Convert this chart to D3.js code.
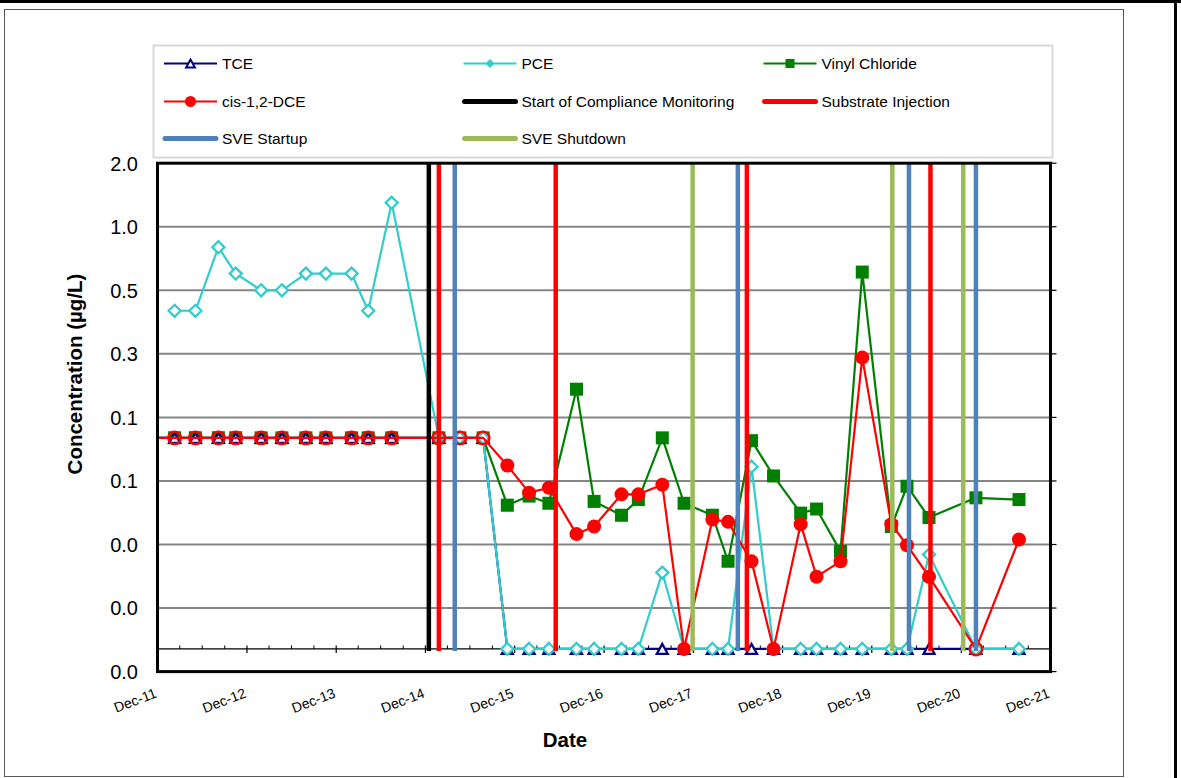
<!DOCTYPE html>
<html>
<head>
<meta charset="utf-8">
<script src="https://cdn.jsdelivr.net/npm/d3@7"></script>
<style>
  html, body { margin: 0; padding: 0; background: #fff; }
  svg { display: block; font-family: "Liberation Sans", Arial, sans-serif; }
</style>
</head>
<body>
<svg id="chart" width="1181" height="778"></svg>
<script>
// ---- Sampling dates (first one precedes the displayed window) ----
const sampleDates = [
  "2011-09-01",
  "2012-02-09", "2012-05-04", "2012-08-06", "2012-10-16", "2013-01-28", "2013-04-23",
  "2013-07-30", "2013-10-20", "2014-02-02", "2014-04-11", "2014-07-16",
  "2015-01-25", "2015-04-21", "2015-07-25",
  "2015-11-01", "2016-01-29", "2016-04-19", "2016-08-10", "2016-10-21",
  "2017-02-10", "2017-04-20", "2017-07-27", "2017-10-24",
  "2018-02-17", "2018-04-22", "2018-07-27", "2018-10-25",
  "2019-02-13", "2019-04-19", "2019-07-26", "2019-10-23",
  "2020-02-19", "2020-04-23", "2020-07-22",
  "2021-01-30", "2021-07-25"
];

// ---- Concentrations (µg/L) ----
const tce = [
  0.1,
  0.1, 0.1, 0.1, 0.1, 0.1, 0.1, 0.1, 0.1, 0.1, 0.1, 0.1,
  0.1, 0.1, 0.1,
  0.01, 0.01, 0.01, 0.01, 0.01,
  0.01, 0.01, 0.01, 0.01,
  0.01, 0.01, 0.01, 0.01,
  0.01, 0.01, 0.01, 0.01,
  0.01, 0.01, 0.01,
  0.01, 0.01
];
const pce = [
  null,
  0.4, 0.4, 0.8, 0.6, 0.5, 0.5, 0.6, 0.6, 0.6, 0.4, 1.3,
  0.1, 0.1, 0.1,
  0.01, 0.01, 0.01, 0.01, 0.01,
  0.01, 0.01, 0.023, 0.01,
  0.01, 0.01, 0.073, 0.01,
  0.01, 0.01, 0.01, 0.01,
  0.01, 0.01, 0.028,
  0.01, 0.01
];
const vinylChloride = [
  0.1,
  0.1, 0.1, 0.1, 0.1, 0.1, 0.1, 0.1, 0.1, 0.1, 0.1, 0.1,
  0.1, 0.1, 0.1,
  0.048, 0.053, 0.049, 0.17, 0.05,
  0.043, 0.051, 0.1, 0.049,
  0.043, 0.026, 0.097, 0.066,
  0.044, 0.046, 0.029, 0.61,
  0.038, 0.059, 0.042,
  0.052, 0.051
];
const cisDCE = [
  0.1,
  0.1, 0.1, 0.1, 0.1, 0.1, 0.1, 0.1, 0.1, 0.1, 0.1, 0.1,
  0.1, 0.1, 0.1,
  0.074, 0.055, 0.058, 0.035, 0.038,
  0.054, 0.054, 0.06, 0.01,
  0.041, 0.040, 0.026, 0.01,
  0.039, 0.022, 0.026, 0.24,
  0.039, 0.031, 0.022,
  0.01, 0.033
];
// cis-1,2-DCE results reported below detection (drawn as open circles)
const cisDCENonDetect = [
  true,
  true, true, true, true, true, true, true, true, true, true, true,
  true, true, true,
  false, false, false, false, false,
  false, false, false, false,
  false, false, false, false,
  false, false, false, false,
  false, false, false,
  true, false
];

// ---- Site activity dates ----
const complianceStart = ["2014-12-15"];
const substrateInjection = ["2015-01-25", "2016-05-17", "2018-07-08", "2020-07-28"];
const sveStartup = ["2015-03-31", "2018-06-01", "2020-05-01", "2021-01-30"];
const sveShutdown = ["2017-11-28", "2020-02-23", "2020-12-09"];

// ---- Axis settings ----
const yTickValues = [2, 1, 0.5, 0.25, 0.125, 0.0625, 0.03125, 0.015625, 0.0078125];
const xDomain = ["2011-12-01", "2021-12-01"];
const xAxisCrossing = 0.01;

const parse = d3.utcParse("%Y-%m-%d");
const svg = d3.select("#chart");

// outer page border pieces
svg.append("rect").attr("x", 0).attr("y", 0).attr("width", 1181).attr("height", 3).attr("fill", "#000");
svg.append("rect").attr("x", 1174).attr("y", 0).attr("width", 3).attr("height", 778).attr("fill", "#000");
// chart area frame
svg.append("rect").attr("x", 4.5).attr("y", 9.5).attr("width", 1119).attr("height", 767)
  .attr("fill", "#fff").attr("stroke", "#595959").attr("stroke-width", 1);

const plot = { left: 157.5, right: 1050.5, top: 163.2, bottom: 671.6 };

const x = d3.scaleUtc().domain(xDomain.map(parse)).range([plot.left, plot.right]);
const y = d3.scaleLog().base(2).domain([yTickValues[yTickValues.length - 1], yTickValues[0]])
  .range([plot.bottom, plot.top]);

// ---- gridlines ----
svg.append("g").selectAll("line")
  .data(yTickValues.slice(1, -1))
  .join("line")
  .attr("x1", plot.left).attr("x2", plot.right)
  .attr("y1", d => y(d)).attr("y2", d => y(d))
  .attr("stroke", "#868686").attr("stroke-width", 2);

// right-side tick marks
svg.append("g").selectAll("line")
  .data(yTickValues)
  .join("line")
  .attr("x1", plot.right).attr("x2", plot.right + 6)
  .attr("y1", d => y(d)).attr("y2", d => y(d))
  .attr("stroke", "#000").attr("stroke-width", 1.2);

// y tick labels
const fmtY = d3.format(".1f");
svg.append("g").selectAll("text")
  .data(yTickValues)
  .join("text")
  .attr("x", 138).attr("y", d => y(d) + 7.3)
  .attr("text-anchor", "end")
  .attr("font-size", 20)
  .attr("fill", "#000")
  .text(d => fmtY(d));

// ---- horizontal axis at the crossing value ----
const yCross = y(xAxisCrossing);
svg.append("line")
  .attr("x1", plot.left).attr("x2", plot.right)
  .attr("y1", yCross).attr("y2", yCross)
  .attr("stroke", "#000").attr("stroke-width", 1.2);

const d0 = parse(xDomain[0]), d1 = parse(xDomain[1]);
const majorTicks = d3.utcMonth.range(d0, new Date(+d1 + 864e5), 12);
const minorTicks = d3.utcMonth.range(d0, new Date(+d1 + 864e5), 3)
  .filter(d => d.getUTCMonth() !== 11);

svg.append("g").selectAll("line")
  .data(minorTicks)
  .join("line")
  .attr("x1", d => x(d)).attr("x2", d => x(d))
  .attr("y1", yCross - 3.5).attr("y2", yCross)
  .attr("stroke", "#000").attr("stroke-width", 1);

svg.append("g").selectAll("line")
  .data(majorTicks)
  .join("line")
  .attr("x1", d => x(d)).attr("x2", d => x(d))
  .attr("y1", yCross - 3.5).attr("y2", yCross + 4)
  .attr("stroke", "#000").attr("stroke-width", 1.2);

const fmtX = d3.utcFormat("%b-%y");
svg.append("g").selectAll("text")
  .data(majorTicks)
  .join("text")
  .attr("transform", d => `translate(${x(d)},${697}) rotate(-21)`)
  .attr("text-anchor", "end")
  .attr("font-size", 14)
  .attr("fill", "#000")
  .text(d => fmtX(d));

// ---- axis titles ----
svg.append("text")
  .attr("transform", "translate(82,374) rotate(-90)")
  .attr("text-anchor", "middle")
  .attr("font-size", 20.5).attr("font-weight", "bold")
  .text("Concentration (µg/L)");

svg.append("text")
  .attr("x", 565).attr("y", 746.5)
  .attr("text-anchor", "middle")
  .attr("font-size", 20.5).attr("font-weight", "bold")
  .text("Date");

// ---- series ----
svg.append("clipPath").attr("id", "plotClip")
  .append("rect")
  .attr("x", plot.left).attr("y", plot.top)
  .attr("width", plot.right - plot.left).attr("height", plot.bottom - plot.top);

const dataArea = svg.append("g").attr("clip-path", "url(#plotClip)");

const markerPaths = {
  triangle: (s) => `M0,${-s}L${s * 1.1},${s}L${-s * 1.1},${s}Z`,
  diamond: (s) => `M0,${-s}L${s},0L0,${s}L${-s},0Z`,
  square: (s) => `M${-s},${-s}H${s}V${s}H${-s}Z`,
  circle: (s) => `M${s},0A${s},${s} 0 1,1 ${-s},0A${s},${s} 0 1,1 ${s},0Z`
};

const series = [
  { name: "Vinyl Chloride", values: vinylChloride, color: "#008000", marker: "square", size: 6.5, hollow: () => false },
  { name: "TCE", values: tce, color: "#000080", marker: "triangle", size: 5, hollow: () => true },
  { name: "PCE", values: pce, color: "#33CCCC", marker: "diamond", size: 6, hollow: () => true },
  { name: "cis-1,2-DCE", values: cisDCE, color: "#FF0000", marker: "circle", size: 7, hollow: (i) => cisDCENonDetect[i] }
];

const line = d3.line()
  .defined(d => d.v != null)
  .x(d => x(d.date))
  .y(d => y(d.v));

series.forEach(s => {
  const pts = sampleDates.map((d, i) => ({ date: parse(d), v: s.values[i], i }));
  const g = dataArea.append("g");
  g.append("path")
    .datum(pts)
    .attr("fill", "none")
    .attr("stroke", s.color)
    .attr("stroke-width", 2.2)
    .attr("stroke-linejoin", "round")
    .attr("d", line);
  g.selectAll("path.mk")
    .data(pts.filter(p => p.v != null))
    .join("path")
    .attr("class", "mk")
    .attr("transform", p => `translate(${x(p.date)},${y(p.v)})`)
    .attr("d", p => markerPaths[s.marker](s.hollow(p.i) && s.marker === "circle" ? 6.3 : s.size))
    .attr("fill", p => s.hollow(p.i) ? "#fff" : s.color)
    .attr("fill-opacity", p => (s.hollow(p.i) && s.marker === "circle") ? 0 : 1)
    .attr("stroke", s.color)
    .attr("stroke-width", p => s.hollow(p.i) ? 2.3 : 0);
});

// ---- activity lines ----
const events = [
  { name: "Start of Compliance Monitoring", dates: complianceStart, color: "#000000" },
  { name: "Substrate Injection", dates: substrateInjection, color: "#FF0000" },
  { name: "SVE Startup", dates: sveStartup, color: "#4F81BD" },
  { name: "SVE Shutdown", dates: sveShutdown, color: "#9BBB59" }
];

events.forEach(e => {
  dataArea.append("g").selectAll("line")
    .data(e.dates.map(parse))
    .join("line")
    .attr("x1", d => x(d)).attr("x2", d => x(d))
    .attr("y1", y(xAxisCrossing) + 2).attr("y2", plot.top)
    .attr("stroke", e.color)
    .attr("stroke-width", 4.5);
});

// plot frame
svg.append("rect")
  .attr("x", plot.left).attr("y", plot.top)
  .attr("width", plot.right - plot.left).attr("height", plot.bottom - plot.top)
  .attr("fill", "none").attr("stroke", "#000").attr("stroke-width", 3);

// ---- legend ----
svg.append("rect")
  .attr("x", 153.5).attr("y", 45.5).attr("width", 899).attr("height", 112)
  .attr("fill", "#fff").attr("stroke", "#d9d9d9").attr("stroke-width", 2);

const legendCols = [164, 463.5, 763.5];
const legendRows = [63.5, 101.5, 138.5];
const legendItems = [
  { s: series[1], col: 0, row: 0 },
  { s: series[2], col: 1, row: 0 },
  { s: series[0], col: 2, row: 0 },
  { s: series[3], col: 0, row: 1 },
  { e: events[0], col: 1, row: 1 },
  { e: events[1], col: 2, row: 1 },
  { e: events[2], col: 0, row: 2 },
  { e: events[3], col: 1, row: 2 }
];

const lg = svg.append("g");
legendItems.forEach(it => {
  const x0 = legendCols[it.col], yy = legendRows[it.row];
  const g = lg.append("g");
  if (it.s) {
    const s = it.s;
    g.append("line").attr("x1", x0).attr("x2", x0 + 53).attr("y1", yy).attr("y2", yy)
      .attr("stroke", s.color).attr("stroke-width", 2.2);
    const hollowMk = s.marker === "triangle";
    g.append("path")
      .attr("transform", `translate(${x0 + 26.5},${yy})`)
      .attr("d", markerPaths[s.marker](s.marker === "circle" ? 5.5 : (s.marker === "triangle" ? 4 : 4.5)))
      .attr("fill", hollowMk ? "#fff" : s.color)
      .attr("stroke", s.color)
      .attr("stroke-width", hollowMk ? 2 : 0);
    g.append("text").attr("x", x0 + 58).attr("y", yy + 5.6)
      .attr("font-size", 15.5).attr("fill", "#000").text(s.name);
  } else {
    const e = it.e;
    g.append("line").attr("x1", x0 + 1).attr("x2", x0 + 52).attr("y1", yy).attr("y2", yy)
      .attr("stroke", e.color).attr("stroke-width", 5).attr("stroke-linecap", "round");
    g.append("text").attr("x", x0 + 58).attr("y", yy + 5.6)
      .attr("font-size", 15.5).attr("fill", "#000").text(e.name);
  }
});
</script>
</body>
</html>
